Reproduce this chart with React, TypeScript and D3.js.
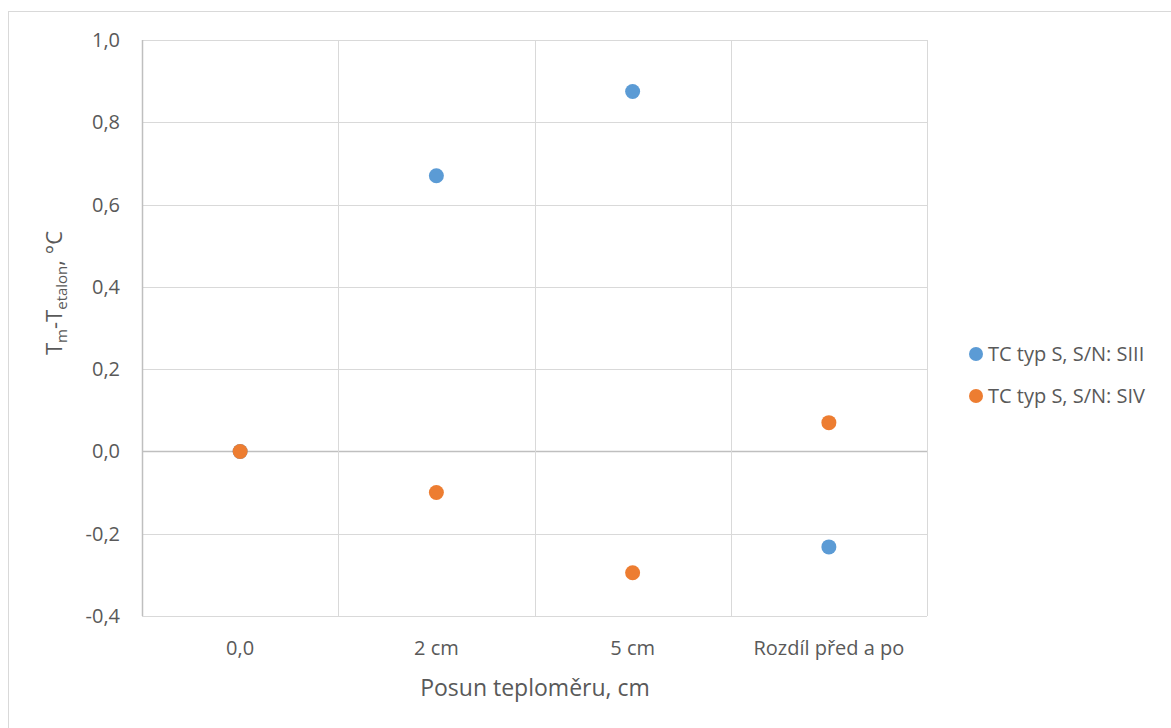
import React from "react";
import * as d3 from "d3";

const categories = ["0,0", "2 cm", "5 cm", "Rozdíl před a po"];
const seriesNames = ["TC typ S, S/N: SIII", "TC typ S, S/N: SIV"];
const siii = [0, 0.67, 0.875, -0.232];
const siv = [0, -0.1, -0.295, 0.07];
const yTicks = [-0.4, -0.2, 0, 0.2, 0.4, 0.6, 0.8, 1.0];
const colors = ["#5B9BD5", "#ED7D31"];

const W = 1171;
const H = 728;
const plot = { left: 142, right: 927, top: 40, bottom: 616 };
const FONT = "'Open Sans', sans-serif";
const TEXT = "#595959";

export default function App() {
  const x = d3
    .scaleBand<string>()
    .domain(categories)
    .range([plot.left, plot.right])
    .paddingInner(0)
    .paddingOuter(0);
  const y = d3.scaleLinear().domain([-0.4, 1.0]).range([plot.bottom, plot.top]);
  const fmt = (v: number) => d3.format(".1f")(v).replace(".", ",").replace("−", "-");
  const series = [siii, siv];

  return (
    <svg
      width={W}
      height={H}
      style={{ position: "absolute", left: 0, top: 0, background: "#fff" }}
      fontFamily={FONT}
    >
      <rect x={8.5} y={11.5} width={W + 20} height={H + 20} fill="#fff" stroke="#d9d9d9" />
      {/* horizontal gridlines */}
      {yTicks.map((t) => (
        <line
          key={"h" + t}
          x1={plot.left}
          x2={plot.right}
          y1={Math.round(y(t)) + 0.5}
          y2={Math.round(y(t)) + 0.5}
          stroke={t === 0 ? "#bfbfbf" : "#d9d9d9"}
          strokeWidth={t === 0 ? 1.5 : 1}
        />
      ))}
      {/* vertical gridlines */}
      {categories.map((c) => (
        <line
          key={"v" + c}
          x1={Math.round((x(c) as number) + x.bandwidth()) + 0.5}
          x2={Math.round((x(c) as number) + x.bandwidth()) + 0.5}
          y1={plot.top}
          y2={plot.bottom}
          stroke="#d9d9d9"
        />
      ))}
      {/* value axis line */}
      <line x1={plot.left + 0.5} x2={plot.left + 0.5} y1={plot.top} y2={plot.bottom} stroke="#bfbfbf" strokeWidth={1.5} />
      {/* y tick labels */}
      {yTicks.map((t) => (
        <text
          key={"yl" + t}
          x={120}
          y={y(t)}
          dy="0.35em"
          textAnchor="end"
          fontSize={20}
          fill={TEXT}
        >
          {fmt(t)}
        </text>
      ))}
      {/* x tick labels */}
      {categories.map((c) => (
        <text
          key={"xl" + c}
          x={(x(c) as number) + x.bandwidth() / 2}
          y={655}
          textAnchor="middle"
          fontSize={20}
          fill={TEXT}
        >
          {c}
        </text>
      ))}
      {/* axis titles */}
      <text x={535} y={696} textAnchor="middle" fontSize={23} fill={TEXT}>
        Posun teploměru, cm
      </text>
      <text
        transform="translate(62,293) rotate(-90)"
        textAnchor="middle"
        fontSize={22}
        fill={TEXT}
      >
        <tspan>T</tspan>
        <tspan fontSize={15} dy={5}>m</tspan>
        <tspan dy={-5}>-T</tspan>
        <tspan fontSize={15} dy={5}>etalon</tspan>
        <tspan dy={-5}>, °C</tspan>
      </text>
      {/* points */}
      {series.map((s, si) =>
        s.map((v, i) => (
          <circle
            key={si + "-" + i}
            cx={(x(categories[i]) as number) + x.bandwidth() / 2}
            cy={y(v)}
            r={7.5}
            fill={colors[si]}
          />
        ))
      )}
      {/* legend */}
      {seriesNames.map((n, i) => (
        <g key={n} transform={`translate(976,${354 + i * 42})`}>
          <circle cx={0} cy={0} r={7} fill={colors[i]} />
          <text x={12} y={0} dy="0.35em" fontSize={20} fill={TEXT}>
            {n}
          </text>
        </g>
      ))}
    </svg>
  );
}
